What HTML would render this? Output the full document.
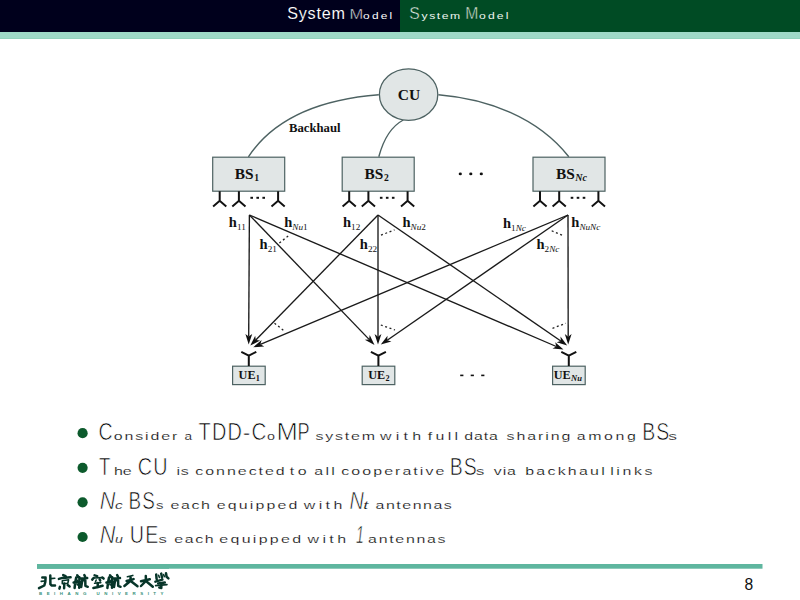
<!DOCTYPE html>
<html><head><meta charset="utf-8"><style>
html,body{margin:0;padding:0;background:#fff;}
body{width:800px;height:600px;overflow:hidden;position:relative;font-family:"Liberation Sans",sans-serif;}
svg{position:absolute;left:0;top:0;}

</style></head><body>
<svg width="800" height="600" viewBox="0 0 800 600">
<rect x="0" y="0" width="400" height="32" fill="#00001c"/>
<rect x="400" y="0" width="400" height="32" fill="#004b24"/>
<rect x="0" y="32" width="800" height="7" fill="#9fd9c7"/><rect x="0" y="38" width="800" height="1" fill="#93d3bd"/>
<text transform="translate(287.17,18.5) scale(1.021,1)" x="0" y="0" font-family="Liberation Sans" font-size="15.8" fill="#ffffff" stroke="#00001c" stroke-width="0.1" letter-spacing="0.78">System</text>
<text transform="translate(349.45,18.8) scale(1.068,1)" x="0" y="0" font-family="Liberation Sans" font-size="15.4" fill="#ffffff" stroke="#00001c" stroke-width="0.5" letter-spacing="0.00">M</text>
<text transform="translate(363.10,18.8) scale(1.450,1)" x="0" y="0" font-family="Liberation Sans" font-size="8.2" fill="#ffffff" stroke="#00001c" stroke-width="0.0" letter-spacing="1.54">odel</text>
<text transform="translate(409.19,19.25) scale(0.959,1)" x="0" y="0" font-family="Liberation Sans" font-size="16.3" fill="#f4fbf6" stroke="#004b24" stroke-width="0.5" letter-spacing="0.00">S</text>
<text transform="translate(421.47,19.25) scale(1.450,1)" x="0" y="0" font-family="Liberation Sans" font-size="8.4" fill="#eef6f0" stroke="#004b24" stroke-width="0.0" letter-spacing="1.09">ystem</text>
<text transform="translate(465.21,19.25) scale(0.963,1)" x="0" y="0" font-family="Liberation Sans" font-size="16.3" fill="#f4fbf6" stroke="#004b24" stroke-width="0.5" letter-spacing="0.00">M</text>
<text transform="translate(479.09,19.25) scale(1.450,1)" x="0" y="0" font-family="Liberation Sans" font-size="8.4" fill="#eef6f0" stroke="#004b24" stroke-width="0.0" letter-spacing="1.45">odel</text>
<g fill="none" stroke="#4d6262" stroke-width="1.4">
<path d="M378.8,94.8 C330.2,98.6 277,113.8 248.4,156.8"/>
<path d="M438.4,94.8 C487.4,98.9 537.4,117.1 568.8,156.8"/>
<path d="M403.3,120 C389.7,127.2 382.6,142.5 378.8,156.8"/>
</g>
<ellipse cx="408.6" cy="94.6" rx="29.2" ry="25.8" fill="#e1e6e6" stroke="#4d6262" stroke-width="1.3"/>
<text x="409" y="100" font-family="Liberation Serif" font-weight="bold" font-size="15.5" text-anchor="middle" fill="#111">CU</text>
<text x="289" y="132" font-family="Liberation Serif" font-weight="bold" font-size="12.5" textLength="51.5" lengthAdjust="spacingAndGlyphs" fill="#111">Backhaul</text>
<rect x="212.7" y="157.2" width="72" height="34" fill="#e1e6e6" stroke="#4d6262" stroke-width="1.2"/>
<text x="234.7" y="178.8" font-family="Liberation Serif" font-weight="bold" font-size="15.4" fill="#111">BS<tspan font-size="9.6" font-weight="bold" dx="0.6" dy="2.6">1</tspan></text>
<path d="M219.7,191.2 V200.8 M213.1,206.4 L219.7,200.8 L226.3,206.4" fill="none" stroke="#111" stroke-width="2"/>
<path d="M238.9,191.2 V200.8 M232.3,206.4 L238.9,200.8 L245.5,206.4" fill="none" stroke="#111" stroke-width="2"/>
<path d="M278.1,191.2 V200.8 M271.5,206.4 L278.1,200.8 L284.7,206.4" fill="none" stroke="#111" stroke-width="2"/>
<rect x="250.4" y="196.8" width="2.6" height="2" fill="#111"/>
<rect x="256.4" y="196.8" width="2.6" height="2" fill="#111"/>
<rect x="262.4" y="196.8" width="2.6" height="2" fill="#111"/>
<rect x="342.2" y="157.2" width="72" height="34" fill="#e1e6e6" stroke="#4d6262" stroke-width="1.2"/>
<text x="364.59999999999997" y="178.8" font-family="Liberation Serif" font-weight="bold" font-size="15.4" fill="#111">BS<tspan font-size="9.6" font-weight="bold" dx="0.6" dy="2.6">2</tspan></text>
<path d="M349.2,191.2 V200.8 M342.6,206.4 L349.2,200.8 L355.8,206.4" fill="none" stroke="#111" stroke-width="2"/>
<path d="M368.4,191.2 V200.8 M361.8,206.4 L368.4,200.8 L375.0,206.4" fill="none" stroke="#111" stroke-width="2"/>
<path d="M407.6,191.2 V200.8 M401.0,206.4 L407.6,200.8 L414.2,206.4" fill="none" stroke="#111" stroke-width="2"/>
<rect x="379.9" y="196.8" width="2.6" height="2" fill="#111"/>
<rect x="385.9" y="196.8" width="2.6" height="2" fill="#111"/>
<rect x="391.9" y="196.8" width="2.6" height="2" fill="#111"/>
<rect x="533.0" y="157.2" width="72" height="34" fill="#e1e6e6" stroke="#4d6262" stroke-width="1.2"/>
<text x="556.0" y="178.8" font-family="Liberation Serif" font-weight="bold" font-size="15.4" fill="#111">BS<tspan font-size="9.6" font-weight="bold" dx="0.6" dy="2.6"><tspan font-style="italic" font-size="10" dx="0.4">Nc</tspan></tspan></text>
<path d="M540.0,191.2 V200.8 M533.4,206.4 L540.0,200.8 L546.6,206.4" fill="none" stroke="#111" stroke-width="2"/>
<path d="M559.2,191.2 V200.8 M552.6,206.4 L559.2,200.8 L565.8,206.4" fill="none" stroke="#111" stroke-width="2"/>
<path d="M598.4,191.2 V200.8 M591.8,206.4 L598.4,200.8 L605.0,206.4" fill="none" stroke="#111" stroke-width="2"/>
<rect x="570.7" y="196.8" width="2.6" height="2" fill="#111"/>
<rect x="576.7" y="196.8" width="2.6" height="2" fill="#111"/>
<rect x="582.7" y="196.8" width="2.6" height="2" fill="#111"/>
<ellipse cx="460.3" cy="173.9" rx="1.6" ry="1.3" fill="#111"/>
<ellipse cx="470.8" cy="173.9" rx="1.6" ry="1.3" fill="#111"/>
<ellipse cx="481.3" cy="173.9" rx="1.6" ry="1.3" fill="#111"/>
<rect x="460.2" y="374.6" width="3.2" height="1.6" fill="#111"/>
<rect x="470.7" y="374.6" width="3.2" height="1.6" fill="#111"/>
<rect x="481.2" y="374.6" width="3.2" height="1.6" fill="#111"/>
<rect x="232.6" y="366.2" width="32.6" height="18.4" fill="#e1e6e6" stroke="#4d6262" stroke-width="1.2"/>
<text x="238.6" y="379" font-family="Liberation Serif" font-weight="bold" font-size="12.2" fill="#111">UE<tspan font-size="8.2" font-weight="bold" dx="0.3" dy="2.2">1</tspan></text>
<path d="M241.3,351.8 L248.8,355.6 L256.3,351.8 M248.8,355.6 V366" fill="none" stroke="#111" stroke-width="2"/>
<rect x="362.2" y="366.2" width="32.6" height="18.4" fill="#e1e6e6" stroke="#4d6262" stroke-width="1.2"/>
<text x="368.2" y="379" font-family="Liberation Serif" font-weight="bold" font-size="12.2" fill="#111">UE<tspan font-size="8.2" font-weight="bold" dx="0.3" dy="2.2">2</tspan></text>
<path d="M370.9,351.8 L378.4,355.6 L385.9,351.8 M378.4,355.6 V366" fill="none" stroke="#111" stroke-width="2"/>
<rect x="552.6" y="366.2" width="32.6" height="18.4" fill="#e1e6e6" stroke="#4d6262" stroke-width="1.2"/>
<text x="553.8000000000001" y="379" font-family="Liberation Serif" font-weight="bold" font-size="12.2" fill="#111">UE<tspan font-size="8.2" font-weight="bold" dx="0.3" dy="2.2"><tspan font-style="italic" font-size="8.5">Nu</tspan></tspan></text>
<path d="M561.3,351.8 L568.8,355.6 L576.3,351.8 M568.8,355.6 V366" fill="none" stroke="#111" stroke-width="2"/>
<g stroke="#1a1a1a" stroke-width="1.35" fill="none">
<line x1="249.4" y1="215.0" x2="248.7" y2="336.6"/>
<line x1="378.0" y1="215.0" x2="255.8" y2="340.0"/>
<line x1="568.0" y1="215.0" x2="260.4" y2="344.3"/>
<line x1="249.4" y1="215.0" x2="369.1" y2="339.4"/>
<line x1="378.0" y1="215.0" x2="378.0" y2="336.8"/>
<line x1="568.0" y1="215.0" x2="387.2" y2="340.2"/>
<line x1="249.4" y1="215.0" x2="556.3" y2="346.5"/>
<line x1="378.0" y1="215.0" x2="560.8" y2="341.0"/>
<line x1="568.0" y1="215.0" x2="568.2" y2="336.8"/>
</g>
<g fill="#111"><path d="M248.7,344.4 L245.4,333.9 L248.7,336.6 L252.2,333.9Z"/><path d="M250.3,345.6 L255.2,335.7 L255.8,340.0 L260.1,340.5Z"/><path d="M253.2,347.3 L261.6,340.1 L260.4,344.3 L264.2,346.4Z"/><path d="M374.5,345.0 L364.8,339.8 L369.1,339.4 L369.7,335.1Z"/><path d="M378.0,344.6 L374.6,334.1 L378.0,336.8 L381.4,334.1Z"/><path d="M380.8,344.6 L387.5,335.8 L387.2,340.2 L391.4,341.4Z"/><path d="M563.5,349.6 L552.5,348.6 L556.3,346.5 L555.2,342.3Z"/><path d="M567.2,345.4 L556.6,342.2 L560.8,341.0 L560.5,336.6Z"/><path d="M568.2,344.6 L564.8,334.1 L568.2,336.8 L571.6,334.1Z"/></g>
<g stroke="#222" stroke-width="1.3" stroke-dasharray="2 2.6" fill="none">
<line x1="279.4" y1="243" x2="289.4" y2="235"/>
<line x1="381" y1="235.2" x2="394.5" y2="229.8"/>
<line x1="551.7" y1="230.75" x2="563.25" y2="235.7"/>
<line x1="274.5" y1="323.25" x2="285" y2="331.5"/>
<line x1="380.8" y1="325" x2="395" y2="330"/>
<line x1="552.5" y1="328.3" x2="565.8" y2="323.3"/>
</g>
<text x="228.8" y="227" font-family="Liberation Serif" fill="#111"><tspan font-weight="bold" font-size="14.5">h</tspan><tspan dy="3" font-size="9.2">11</tspan></text>
<text x="259.6" y="248.5" font-family="Liberation Serif" fill="#111"><tspan font-weight="bold" font-size="14.5">h</tspan><tspan dy="3" font-size="9.2">21</tspan></text>
<text x="284.2" y="227" font-family="Liberation Serif" fill="#111"><tspan font-weight="bold" font-size="14.5">h</tspan><tspan dy="3" font-size="9.2"><tspan font-style="italic">Nu</tspan>1</tspan></text>
<text x="343" y="227" font-family="Liberation Serif" fill="#111"><tspan font-weight="bold" font-size="14.5">h</tspan><tspan dy="3" font-size="9.2">12</tspan></text>
<text x="359.8" y="248.5" font-family="Liberation Serif" fill="#111"><tspan font-weight="bold" font-size="14.5">h</tspan><tspan dy="3" font-size="9.2">22</tspan></text>
<text x="402.5" y="227" font-family="Liberation Serif" fill="#111"><tspan font-weight="bold" font-size="14.5">h</tspan><tspan dy="3" font-size="9.2"><tspan font-style="italic">Nu</tspan>2</tspan></text>
<text x="503" y="227.5" font-family="Liberation Serif" fill="#111"><tspan font-weight="bold" font-size="14.5">h</tspan><tspan dy="3" font-size="9.2">1<tspan font-style="italic">Nc</tspan></tspan></text>
<text x="536.5" y="248.5" font-family="Liberation Serif" fill="#111"><tspan font-weight="bold" font-size="14.5">h</tspan><tspan dy="3" font-size="9.2">2<tspan font-style="italic">Nc</tspan></tspan></text>
<text x="571.3" y="227" font-family="Liberation Serif" fill="#111"><tspan font-weight="bold" font-size="14.5">h</tspan><tspan dy="3" font-size="9.2"><tspan font-style="italic">NuNc</tspan></tspan></text>
<circle cx="82.6" cy="433.2" r="5.1" fill="#0c5a2c"/><circle cx="82.6" cy="467.8" r="5.1" fill="#0c5a2c"/><circle cx="82.6" cy="502.3" r="5.1" fill="#0c5a2c"/><circle cx="82.6" cy="537.0" r="5.1" fill="#0c5a2c"/>
<g font-family="Liberation Sans">
<text transform="translate(98.61,439.8) scale(0.830,1)" x="0" y="0" font-size="23.6" fill="#000" stroke="#fff" stroke-width="0.7" letter-spacing="0.00">C</text>
<text transform="translate(113.73,439.8) scale(1.400,1)" x="0" y="0" font-size="11.4" fill="#000" stroke="#fff" stroke-width="0.2" letter-spacing="1.33">onsider</text>
<text transform="translate(184.42,439.8) scale(1.195,1)" x="0" y="0" font-size="11.4" fill="#000" stroke="#fff" stroke-width="0.2" letter-spacing="0.00">a</text>
<text transform="translate(198.55,439.8) scale(0.845,1)" x="0" y="0" font-size="23.6" fill="#000" stroke="#fff" stroke-width="0.7" letter-spacing="1.42">TDD</text>
<text transform="translate(242.68,439.8) scale(0.972,1)" x="0" y="0" font-size="23.6" fill="#000" stroke="#fff" stroke-width="0.7" letter-spacing="0.00">-</text>
<text transform="translate(251.56,439.8) scale(0.870,1)" x="0" y="0" font-size="23.6" fill="#000" stroke="#fff" stroke-width="0.7" letter-spacing="0.00">C</text>
<text transform="translate(267.10,439.8) scale(1.263,1)" x="0" y="0" font-size="11.4" fill="#000" stroke="#fff" stroke-width="0.2" letter-spacing="0.00">o</text>
<text transform="translate(276.50,439.8) scale(1.083,1)" x="0" y="0" font-size="23.6" fill="#000" stroke="#fff" stroke-width="0.7" letter-spacing="0.00">M</text>
<text transform="translate(297.50,439.8) scale(0.772,1)" x="0" y="0" font-size="23.6" fill="#000" stroke="#fff" stroke-width="0.7" letter-spacing="0.00">P</text>
<text transform="translate(315.56,439.8) scale(1.400,1)" x="0" y="0" font-size="11.4" fill="#000" stroke="#fff" stroke-width="0.2" letter-spacing="1.28">system</text>
<text transform="translate(380.02,439.8) scale(1.400,1)" x="0" y="0" font-size="11.4" fill="#000" stroke="#fff" stroke-width="0.2" letter-spacing="3.01">with</text>
<text transform="translate(427.77,439.8) scale(1.400,1)" x="0" y="0" font-size="11.4" fill="#000" stroke="#fff" stroke-width="0.2" letter-spacing="2.36">full</text>
<text transform="translate(464.33,439.8) scale(1.400,1)" x="0" y="0" font-size="11.4" fill="#000" stroke="#fff" stroke-width="0.2" letter-spacing="0.62">data</text>
<text transform="translate(506.56,439.8) scale(1.400,1)" x="0" y="0" font-size="11.4" fill="#000" stroke="#fff" stroke-width="0.2" letter-spacing="1.38">sharing</text>
<text transform="translate(576.72,439.8) scale(1.400,1)" x="0" y="0" font-size="11.4" fill="#000" stroke="#fff" stroke-width="0.2" letter-spacing="1.84">among</text>
<text transform="translate(642.15,439.8) scale(0.827,1)" x="0" y="0" font-size="23.6" fill="#000" stroke="#fff" stroke-width="0.7" letter-spacing="1.45">BS</text>
<text transform="translate(668.31,439.8) scale(1.529,1)" x="0" y="0" font-size="11.4" fill="#000" stroke="#fff" stroke-width="0.2" letter-spacing="0.00">s</text>
<text transform="translate(99.08,474.5) scale(0.787,1)" x="0" y="0" font-size="23.6" fill="#000" stroke="#fff" stroke-width="0.7" letter-spacing="0.00">T</text>
<text transform="translate(113.89,474.5) scale(1.400,1)" x="0" y="0" font-size="11.4" fill="#000" stroke="#fff" stroke-width="0.2" letter-spacing="0.05">he</text>
<text transform="translate(137.75,474.5) scale(0.839,1)" x="0" y="0" font-size="23.6" fill="#000" stroke="#fff" stroke-width="0.7" letter-spacing="1.43">CU</text>
<text transform="translate(176.43,474.5) scale(1.400,1)" x="0" y="0" font-size="11.4" fill="#000" stroke="#fff" stroke-width="0.2" letter-spacing="0.58">is</text>
<text transform="translate(195.32,474.5) scale(1.400,1)" x="0" y="0" font-size="11.4" fill="#000" stroke="#fff" stroke-width="0.2" letter-spacing="1.41">connected</text>
<text transform="translate(289.76,474.5) scale(1.400,1)" x="0" y="0" font-size="11.4" fill="#000" stroke="#fff" stroke-width="0.2" letter-spacing="2.57">to</text>
<text transform="translate(314.32,474.5) scale(1.400,1)" x="0" y="0" font-size="11.4" fill="#000" stroke="#fff" stroke-width="0.2" letter-spacing="1.62">all</text>
<text transform="translate(341.32,474.5) scale(1.400,1)" x="0" y="0" font-size="11.4" fill="#000" stroke="#fff" stroke-width="0.2" letter-spacing="1.47">cooperative</text>
<text transform="translate(449.65,474.5) scale(0.827,1)" x="0" y="0" font-size="23.6" fill="#000" stroke="#fff" stroke-width="0.7" letter-spacing="1.45">BS</text>
<text transform="translate(476.04,474.5) scale(1.459,1)" x="0" y="0" font-size="11.4" fill="#000" stroke="#fff" stroke-width="0.2" letter-spacing="0.00">s</text>
<text transform="translate(493.70,474.5) scale(1.400,1)" x="0" y="0" font-size="11.4" fill="#000" stroke="#fff" stroke-width="0.2" letter-spacing="0.68">via</text>
<text transform="translate(525.22,474.5) scale(1.400,1)" x="0" y="0" font-size="11.4" fill="#000" stroke="#fff" stroke-width="0.2" letter-spacing="1.60">backhaul</text>
<text transform="translate(610.17,474.5) scale(1.400,1)" x="0" y="0" font-size="11.4" fill="#000" stroke="#fff" stroke-width="0.2" letter-spacing="1.87">links</text>
<text transform="translate(99.83,508.5) scale(0.919,1)" x="0" y="0" font-size="23.6" font-style="italic" fill="#000" stroke="#fff" stroke-width="0.7" letter-spacing="0.00">N</text>
<text transform="translate(115.00,508.5) scale(1.346,1)" x="0" y="0" font-size="11.4" font-style="italic" fill="#000" stroke="#fff" stroke-width="0.2" letter-spacing="0.00">c</text>
<text transform="translate(128.45,508.5) scale(0.801,1)" x="0" y="0" font-size="23.6" fill="#000" stroke="#fff" stroke-width="0.7" letter-spacing="1.50">BS</text>
<text transform="translate(156.09,508.5) scale(1.308,1)" x="0" y="0" font-size="11.4" fill="#000" stroke="#fff" stroke-width="0.2" letter-spacing="0.00">s</text>
<text transform="translate(170.57,508.5) scale(1.400,1)" x="0" y="0" font-size="11.4" fill="#000" stroke="#fff" stroke-width="0.2" letter-spacing="1.10">each</text>
<text transform="translate(216.82,508.5) scale(1.400,1)" x="0" y="0" font-size="11.4" fill="#000" stroke="#fff" stroke-width="0.2" letter-spacing="1.51">equipped</text>
<text transform="translate(303.77,508.5) scale(1.400,1)" x="0" y="0" font-size="11.4" fill="#000" stroke="#fff" stroke-width="0.2" letter-spacing="2.41">with</text>
<text transform="translate(349.39,508.5) scale(0.842,1)" x="0" y="0" font-size="23.6" font-style="italic" fill="#000" stroke="#fff" stroke-width="0.7" letter-spacing="0.00">N</text>
<text transform="translate(363.19,508.5) scale(1.560,1)" x="0" y="0" font-size="11.4" font-style="italic" fill="#000" stroke="#fff" stroke-width="0.2" letter-spacing="0.00">t</text>
<text transform="translate(375.57,508.5) scale(1.400,1)" x="0" y="0" font-size="11.4" fill="#000" stroke="#fff" stroke-width="0.2" letter-spacing="1.08">antennas</text>
<text transform="translate(99.83,543.0) scale(0.919,1)" x="0" y="0" font-size="23.6" font-style="italic" fill="#000" stroke="#fff" stroke-width="0.7" letter-spacing="0.00">N</text>
<text transform="translate(114.91,543.0) scale(1.243,1)" x="0" y="0" font-size="11.4" font-style="italic" fill="#000" stroke="#fff" stroke-width="0.2" letter-spacing="0.00">u</text>
<text transform="translate(129.73,543.0) scale(0.836,1)" x="0" y="0" font-size="23.6" fill="#000" stroke="#fff" stroke-width="0.7" letter-spacing="1.43">UE</text>
<text transform="translate(158.54,543.0) scale(1.459,1)" x="0" y="0" font-size="11.4" fill="#000" stroke="#fff" stroke-width="0.2" letter-spacing="0.00">s</text>
<text transform="translate(174.32,543.0) scale(1.400,1)" x="0" y="0" font-size="11.4" fill="#000" stroke="#fff" stroke-width="0.2" letter-spacing="1.10">each</text>
<text transform="translate(219.32,543.0) scale(1.400,1)" x="0" y="0" font-size="11.4" fill="#000" stroke="#fff" stroke-width="0.2" letter-spacing="1.64">equipped</text>
<text transform="translate(307.52,543.0) scale(1.400,1)" x="0" y="0" font-size="11.4" fill="#000" stroke="#fff" stroke-width="0.2" letter-spacing="2.41">with</text>
<text transform="translate(355.89,543.0) scale(0.594,1)" x="0" y="0" font-size="23.6" font-style="italic" fill="#000" stroke="#fff" stroke-width="0.7" letter-spacing="0.00">1</text>
<text transform="translate(368.07,543.0) scale(1.400,1)" x="0" y="0" font-size="11.4" fill="#000" stroke="#fff" stroke-width="0.2" letter-spacing="1.21">antennas</text>
</g>
<rect x="37" y="564" width="725.5" height="4.7" fill="#5fb69f"/>
<text x="744.6" y="589.6" font-family="Liberation Sans" font-size="15.6" fill="#111">8</text>
<g fill="none" stroke="#073529" stroke-linecap="round" stroke-linejoin="round"><path stroke-width="2.5" d="M42.3,577.5 L45.6,577.6 L45.3,582.0 L44.3,585.5 L39.0,588.2 M50.3,575.6 L50.4,584.2 L51.5,585.4 L55.0,585.5 M58.9,578.9 L62.5,577.9 L70.6,577.3 M64.3,583.5 L64.1,588.2 M59.9,586.9 L59.4,588.6 M67.7,585.0 L69.6,586.4 M63.2,575.1 L65.6,576.1 M77.2,575.3 L78.2,576.6 M76.2,577.6 L75.3,582.0 L74.6,588.0 M79.4,577.3 L79.2,587.8 M73.6,582.6 L80.6,582.0 M84.3,575.0 L85.0,576.4 M81.0,578.6 L87.2,578.0 M82.3,580.3 L81.2,587.0 M82.4,580.2 L85.3,580.2 L85.4,585.8 L87.8,586.8 M94.6,575.4 L97.2,576.1 M92.2,579.6 L93.6,578.0 M102.3,577.6 L103.6,578.6 M93.4,588.0 L98.0,587.0 L102.6,585.8 M97.8,583.0 L97.6,587.2 M99.6,579.3 L100.2,580.6 M110.0,575.3 L111.0,576.6 M109.0,577.6 L108.1,582.0 L107.4,588.0 M112.2,577.3 L112.0,587.8 M106.4,582.6 L113.4,582.0 M117.1,575.0 L117.8,576.4 M113.8,578.6 L120.0,578.0 M115.1,580.3 L114.0,587.0 M115.2,580.2 L118.1,580.2 L118.2,585.8 L120.6,586.8 M126.6,581.0 L133.6,579.1 M130.6,577.2 L130.3,581.0 L124.4,586.0 M131.0,581.2 L137.5,586.3 M141.0,581.3 L149.8,579.3 M145.8,575.9 L145.9,581.0 L141.0,586.0 M146.5,581.5 L152.8,586.7 M156.2,574.4 L156.6,579.0 M161.2,573.6 L162.0,577.4 M166.0,573.2 L166.6,576.8 L168.4,578.4 M155.4,581.6 L162.4,579.6 M158.2,583.6 L164.8,582.6 M161.4,583.2 L161.3,588.0 L159.3,587.6"/><path stroke-width="1.6" d="M41.2,581.4 L44.5,581.0 M50.8,578.6 L54.8,578.3 M62.3,580.8 L68.6,579.8 L67.8,583.2 M62.3,580.8 L62.3,583.8 L67.8,583.2 M76.2,577.6 L79.4,577.3 M77.0,580.0 L77.6,581.0 M77.0,584.0 L77.6,585.0 M93.6,578.0 L102.3,577.6 M96.2,580.0 L95.6,581.5 M94.6,583.3 L100.8,582.6 M109.0,577.6 L112.2,577.3 M109.8,580.0 L110.4,581.0 M109.8,584.0 L110.4,585.0 M127.4,576.8 L132.8,575.4 M158.6,575.2 L159.4,577.4 M163.6,574.6 L164.4,576.6 M155.6,585.6 L167.0,584.6"/></g><rect x="37" y="567.5" width="132" height="1.3" fill="#5fb69f"/><text x="39" y="594.8" font-family="Liberation Sans" font-weight="bold" font-size="4.4" fill="#35907a" textLength="124.5" lengthAdjust="spacing">BEIHANG UNIVERSITY</text>
</svg>
</body></html>
